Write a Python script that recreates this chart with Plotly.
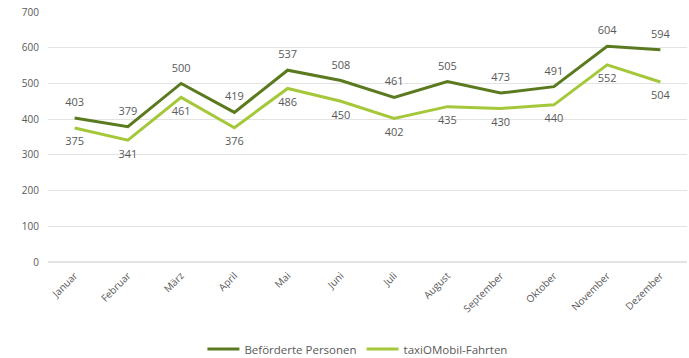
import plotly.graph_objects as go

months = ["Januar", "Februar", "März", "April", "Mai", "Juni", "Juli",
          "August", "September", "Oktober", "November", "Dezember"]
befoerderte = [403, 379, 500, 419, 537, 508, 461, 505, 473, 491, 604, 594]
fahrten = [375, 341, 461, 376, 486, 450, 402, 435, 430, 440, 552, 504]
y_ticks = [0, 100, 200, 300, 400, 500, 600, 700]

font_color = "#595959"
fig = go.Figure()
fig.add_trace(go.Scatter(
    x=months, y=befoerderte, name="Beförderte Personen", mode="lines+markers+text",
    line=dict(color="#5b7a1f", width=3),
    marker=dict(size=13, color="rgba(0,0,0,0)"),
    text=[str(v) for v in befoerderte],
    textposition="top center", textfont=dict(color=font_color, size=11),
    cliponaxis=False))
fig.add_trace(go.Scatter(
    x=months, y=fahrten, name="taxiOMobil-Fahrten", mode="lines+markers+text",
    line=dict(color="#a5c83a", width=3),
    marker=dict(size=13, color="rgba(0,0,0,0)"),
    text=[str(v) for v in fahrten],
    textposition="bottom center", textfont=dict(color=font_color, size=11),
    cliponaxis=False))

fig.update_layout(
    width=689, height=358,
    margin=dict(l=48, r=2, t=12, b=96, autoexpand=False),
    paper_bgcolor="white", plot_bgcolor="white",
    font=dict(family="Open Sans, sans-serif", color=font_color, size=10),
    showlegend=True,
    legend=dict(orientation="h", x=0.485, xanchor="center",
                yref="container", y=0.025, yanchor="middle",
                font=dict(size=11.5, color=font_color), itemwidth=32),
    xaxis=dict(tickangle=-45, showgrid=False, showline=False, ticks="",
               automargin=False, ticklabelstandoff=5,
               range=[-0.5, len(months) - 0.5],
               tickfont=dict(size=10, color=font_color)),
    yaxis=dict(range=[0, 700], tickvals=y_ticks, gridcolor="#e3e3e3",
               zeroline=True, zerolinecolor="#e3e3e3", showline=False,
               ticks="", ticklabelstandoff=8, automargin=False,
               tickfont=dict(size=10, color=font_color)),
)

fig.write_html("out.html")
